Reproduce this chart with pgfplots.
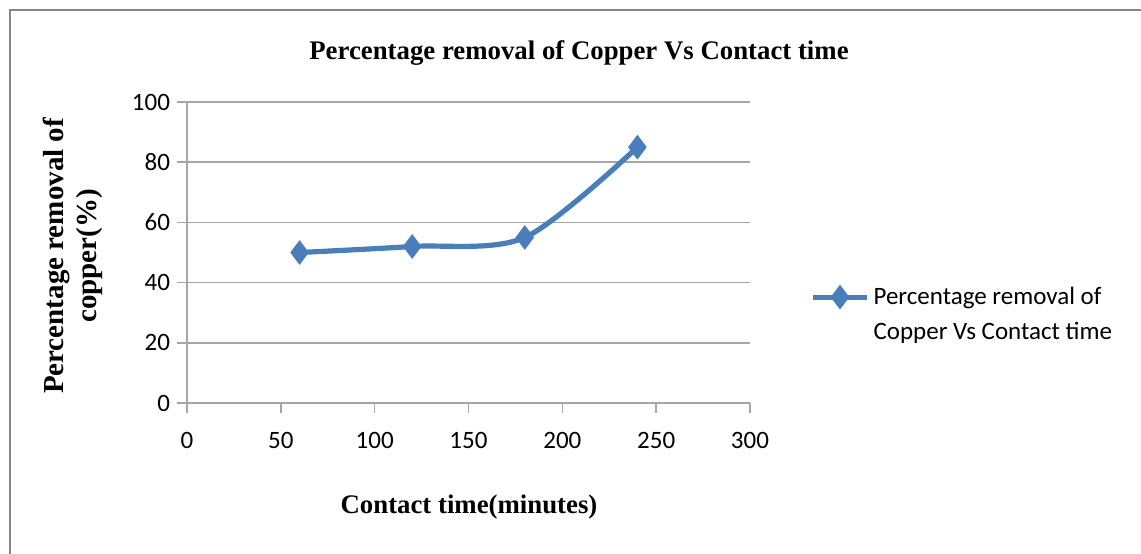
\documentclass[border=0pt]{standalone}
\usepackage{fontspec}
\setmainfont{Carlito}
\newfontfamily\titlefont{Liberation Serif}
\usepackage{pgfplots}
\pgfplotsset{compat=1.18}
\definecolor{series}{HTML}{4A7EBB}
\definecolor{gridgray}{HTML}{A6A6A6}
\definecolor{framegray}{HTML}{868686}

\begin{document}
\begin{tikzpicture}
\path[use as bounding box] (-93.5pt,-75pt) rectangle (477pt,201.5pt);
\draw[framegray,line width=1.3pt] (-88.5pt,-80pt) -- (-88.5pt,196.5pt) -- (480pt,196.5pt);
\begin{axis}[
  at={(0pt,0pt)},anchor=south west,
  width=281.5pt,height=150.5pt,scale only axis,
  xmin=0,xmax=300,ymin=0,ymax=100,
  xtick={0,50,100,150,200,250,300},
  ytick={0,20,40,60,80,100},
  axis x line=bottom,axis y line=left,
  axis line style={gridgray,line width=0.8pt,-},
  tick align=outside,major tick length=5pt,
  tick style={gridgray,line width=0.8pt},
  ymajorgrids,grid style={gridgray,line width=0.8pt},
  tick label style={font=\fontsize{12.5}{14}\selectfont},
  /pgf/number format/assume math mode=true,
  xticklabel style={yshift=-6pt},
  legend style={at={(rel axis cs:1.1066,0.292)},anchor=west,draw=none,fill=none,
    inner sep=0pt,font=\fontsize{12.5}{17.5}\selectfont,
    cells={align=left,anchor=west}},
  legend image code/.code={\draw[#1,mark repeat=2,mark phase=2,yshift=9pt] plot coordinates {(0pt,0pt) (13.5pt,0pt) (27pt,0pt)};},
  clip=false]
  \addplot[series,line width=2.6pt,smooth,mark=diamond*,mark size=5.8pt,
    mark options={solid,line width=0.5pt}]
    coordinates {(60,50)(120,52)(180,55)(240,85)};
  \addlegendentry{Percentage removal of\\Copper Vs Contact time}
\end{axis}
\node[font=\titlefont\bfseries\fontsize{13.4}{15}\selectfont] at (196pt,175pt) {Percentage removal of Copper Vs Contact time};
\node[font=\titlefont\bfseries\fontsize{13.4}{15}\selectfont] at (141pt,-52pt) {Contact time(minutes)};
\node[font=\titlefont\bfseries\fontsize{14.5}{16.5}\selectfont,rotate=90,align=center] at (-57pt,73.5pt) {Percentage removal of\\copper(\%)};
\end{tikzpicture}
\end{document}
